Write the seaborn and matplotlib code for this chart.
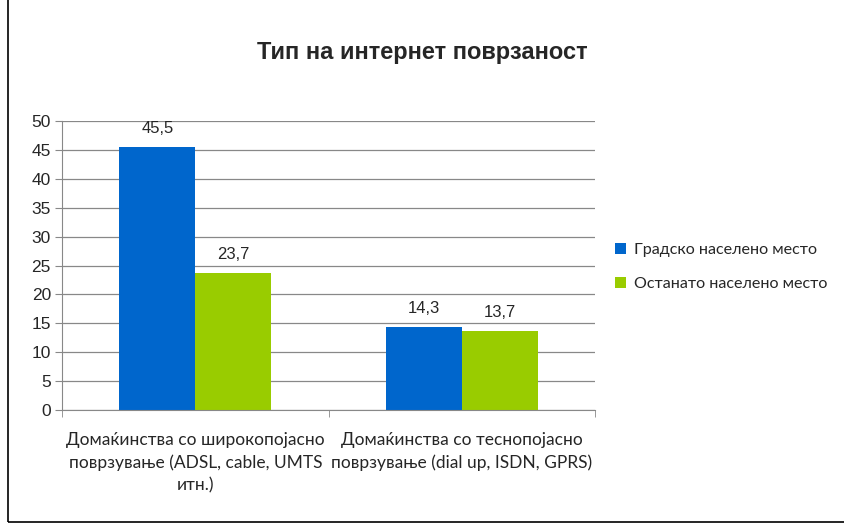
import pandas as pd
import numpy as np
import matplotlib.pyplot as plt
import seaborn as sns

# Податоци
categories = ['Домаќинства со широкопојасно\nповрзување (ADSL, cable, UMTS\nитн.)',
              'Домаќинства со теснопојасно\nповрзување (dial up, ISDN, GPRS)']
series = ['Градско населено место', 'Останато населено место']
urban = [45.5, 14.3]
other = [23.7, 13.7]
colors = ['#0066CC', '#99CC00']

df = pd.DataFrame({
    'category': categories * 2,
    'series': [series[0]] * 2 + [series[1]] * 2,
    'value': urban + other,
})

sns.set_style('white')
plt.rcParams['font.family'] = ['Liberation Sans', 'DejaVu Sans']

fig = plt.figure(figsize=(8.45, 5.23), dpi=100)
ax = fig.add_axes([0.0734, 0.216, 0.631, 0.5526])

sns.barplot(data=df, x='category', y='value', hue='series', palette=colors,
            width=0.57, saturation=1, linewidth=0, ax=ax, legend=True)

ax.set_ylim(0, 50)
ax.set_xlim(-0.5, 1.5)
ax.set_yticks(np.arange(0, 51, 5))
ax.yaxis.grid(True, color='#888888', linewidth=0.9)
ax.set_axisbelow(True)
ax.tick_params(axis='y', labelsize=12.5, length=5, color='#888888', direction='out', left=True, pad=3)
ax.tick_params(axis='x', which='major', length=0, pad=16)
ax.set_xticks([-0.5, 0.5, 1.5], minor=True)
ax.tick_params(axis='x', which='minor', length=5, color='#888888', direction='out', bottom=True)
for lbl in ax.get_xticklabels():
    lbl.set_fontfamily(['Lato', 'DejaVu Sans'])
    lbl.set_fontsize(12.5)
    lbl.set_linespacing(1.45)
ax.set_xlabel('')
ax.set_ylabel('')
for s in ['top', 'right']:
    ax.spines[s].set_visible(False)
for s in ['left', 'bottom']:
    ax.spines[s].set_color('#888888')

for cont in ax.containers:
    ax.bar_label(cont, labels=[f'{v:.1f}'.replace('.', ',') for v in cont.datavalues],
                 padding=8, fontsize=12)

leg = ax.legend(loc='center left', bbox_to_anchor=(1.01, 0.495), frameon=False,
                handlelength=0.7, handleheight=0.7, handletextpad=0.5, labelspacing=1.2,
                prop={'family': ['Lato', 'DejaVu Sans'], 'size': 11.6})

fig.text(0.5, 0.90, 'Тип на интернет поврзаност', ha='center', va='center',
         fontsize=17, fontweight='bold')

border = plt.Rectangle((0.01, 0.002), 0.99, 1.2, transform=fig.transFigure,
                       fill=False, edgecolor='black', linewidth=1.2)
fig.patches.append(border)

fig.savefig('out.png', dpi=100)
